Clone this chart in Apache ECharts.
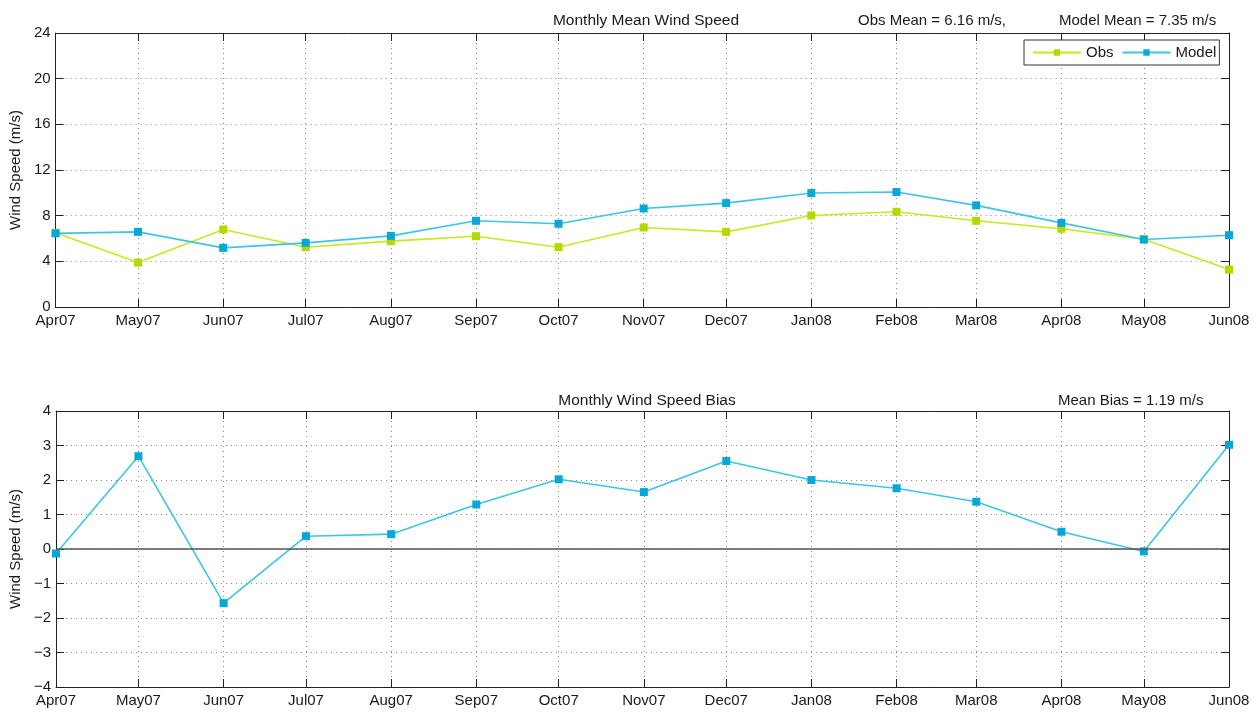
<!DOCTYPE html>
<html>
<head>
<meta charset="utf-8">
<script src="https://cdn.jsdelivr.net/npm/echarts@6/dist/echarts.min.js"></script>
<style>
html,body{margin:0;padding:0;background:#fff;}
#chart{width:1259px;height:713px;}
</style>
</head>
<body>
<div id="chart"></div>
<script>
// ---- data ----
const months = ['2007-04','2007-05','2007-06','2007-07','2007-08','2007-09','2007-10','2007-11','2007-12','2008-01','2008-02','2008-03','2008-04','2008-05','2008-06'];
const monthNames = ['Jan','Feb','Mar','Apr','May','Jun','Jul','Aug','Sep','Oct','Nov','Dec'];
const obsSpeed   = [6.50, 3.89, 6.79, 5.24, 5.77, 6.20, 5.24, 6.97, 6.58, 8.02, 8.34, 7.55, 6.85, 5.94, 3.28];
const modelSpeed = [6.45, 6.58, 5.18, 5.62, 6.23, 7.55, 7.29, 8.63, 9.10, 9.98, 10.07, 8.90, 7.37, 5.91, 6.29];
const biasValues = [-0.13, 2.69, -1.57, 0.37, 0.43, 1.29, 2.02, 1.65, 2.55, 2.00, 1.76, 1.37, 0.50, -0.07, 3.02];
const speedTicks = [0, 4, 8, 12, 16, 20, 24];
const biasTicks = [-4, -3, -2, -1, 0, 1, 2, 3, 4];
const titleTop = 'Monthly Mean Wind Speed';
const obsMeanText = 'Obs Mean = 6.16 m/s,';
const modelMeanText = 'Model Mean = 7.35 m/s';
const titleBottom = 'Monthly Wind Speed Bias';
const biasMeanText = 'Mean Bias = 1.19 m/s';

// ---- build ----
const DAY = 86400000;
const ts = months.map(m => { const [y, mo] = m.split('-').map(Number); return Math.round(Date.UTC(y, mo - 1, 1) / DAY); });
const pairs = arr => arr.map((v, i) => [ts[i], v]);
const fmtMonth = v => { const d = new Date(Math.round(v) * DAY); return monthNames[d.getUTCMonth()] + String(d.getUTCFullYear()).slice(2); };
const fmtNum = v => String(v).replace('-', '\u2212');

const FONT = 'Liberation Sans, Arial, Helvetica, sans-serif';
const txt = {fontFamily: FONT, fontSize: 15, color: '#1a1a1a'};
const obsLine = '#c6ea1e', obsMark = '#b4d800';
const modLine = '#3cc6e6', modMark = '#08a8d6';

const grids = [
  {left: 55, right: 30, top: 33, height: 274},
  {left: 55, right: 30, top: 411, height: 276}
];

function xAxes(gi) {
  const base = {
    type: 'value', gridIndex: gi, min: ts[0], max: ts[ts.length - 1],
    axisLine: {show: true, onZero: false, lineStyle: {color: '#222', width: 1}},
    axisTick: {show: true, inside: true, length: 8, lineStyle: {color: '#222'}, customValues: ts},
  };
  return [
    Object.assign({}, base, {
      position: 'bottom',
      axisLabel: {show: true, customValues: ts, formatter: fmtMonth, margin: 6, ...txt, showMinLabel: true, showMaxLabel: true},
      splitLine: {show: true, lineStyle: {color: '#888', type: [1, 4], width: 1}}
    }),
    Object.assign({}, base, {
      position: 'top',
      axisLabel: {show: false},
      splitLine: {show: false}
    })
  ];
}
function yAxes(gi, min, max, interval, ticks) {
  const base = {
    type: 'value', gridIndex: gi, min, max, interval,
    axisLine: {show: true, onZero: false, lineStyle: {color: '#222', width: 1}},
    axisTick: {show: true, inside: true, length: 8, lineStyle: {color: '#222'}},
  };
  return [
    Object.assign({}, base, {
      position: 'left',
      name: 'Wind Speed (m/s)', nameLocation: 'middle', nameGap: 30,
      nameTextStyle: {...txt},
      axisLabel: {show: true, formatter: fmtNum, margin: 5, ...txt},
      splitLine: {show: true, lineStyle: {color: '#888', type: [1, 4], width: 1}}
    }),
    Object.assign({}, base, {
      position: 'right',
      axisLabel: {show: false},
      splitLine: {show: false}
    })
  ];
}

const xA = [...xAxes(0), ...xAxes(1)];
const yA = [...yAxes(0, 0, 24, 4, speedTicks), ...yAxes(1, -4, 4, 1, biasTicks)];

const tStyle = {...txt, fontWeight: 'normal'};
const option = {
  animation: false,
  backgroundColor: '#fff',
  title: [
    {text: titleTop, left: 641, top: 8, textAlign: 'center', textStyle: {...tStyle, fontSize: 15.5}},
    {text: obsMeanText, left: 853, top: 8, textStyle: tStyle},
    {text: modelMeanText, left: 1054, top: 8, textStyle: tStyle},
    {text: titleBottom, left: 642, top: 388, textAlign: 'center', textStyle: {...tStyle, fontSize: 15.5}},
    {text: biasMeanText, left: 1053, top: 388, textStyle: tStyle}
  ],
  legend: {
    data: ['Obs', 'Model'],
    left: 1024, top: 40,
    orient: 'horizontal',
    itemWidth: 48, itemHeight: 8, itemGap: 8,
    padding: [5, 3, 5, 8],
    borderColor: '#333', borderWidth: 1, backgroundColor: '#fff',
    textStyle: {...txt, fontSize: 15}
  },
  grid: grids,
  xAxis: xA,
  yAxis: yA,
  series: [
    {
      name: 'Obs', type: 'line', xAxisIndex: 0, yAxisIndex: 0,
      data: pairs(obsSpeed), symbol: 'rect', symbolSize: 8,
      lineStyle: {color: obsLine, width: 1.6}, itemStyle: {color: obsMark},
      z: 3
    },
    {
      name: 'Model', type: 'line', xAxisIndex: 0, yAxisIndex: 0,
      data: pairs(modelSpeed), symbol: 'rect', symbolSize: 8,
      lineStyle: {color: modLine, width: 1.6}, itemStyle: {color: modMark},
      z: 4
    },
    {
      name: 'Bias', type: 'line', xAxisIndex: 2, yAxisIndex: 2,
      data: pairs(biasValues), symbol: 'rect', symbolSize: 8,
      lineStyle: {color: modLine, width: 1.6}, itemStyle: {color: modMark},
      z: 4,
      markLine: {
        silent: true, symbol: 'none', label: {show: false},
        lineStyle: {color: '#555', type: 'solid', width: 1.5},
        data: [{yAxis: 0}]
      }
    }
  ]
};

const chart = echarts.init(document.getElementById('chart'), null, {renderer: 'canvas'});
chart.setOption(option);
</script>
</body>
</html>
